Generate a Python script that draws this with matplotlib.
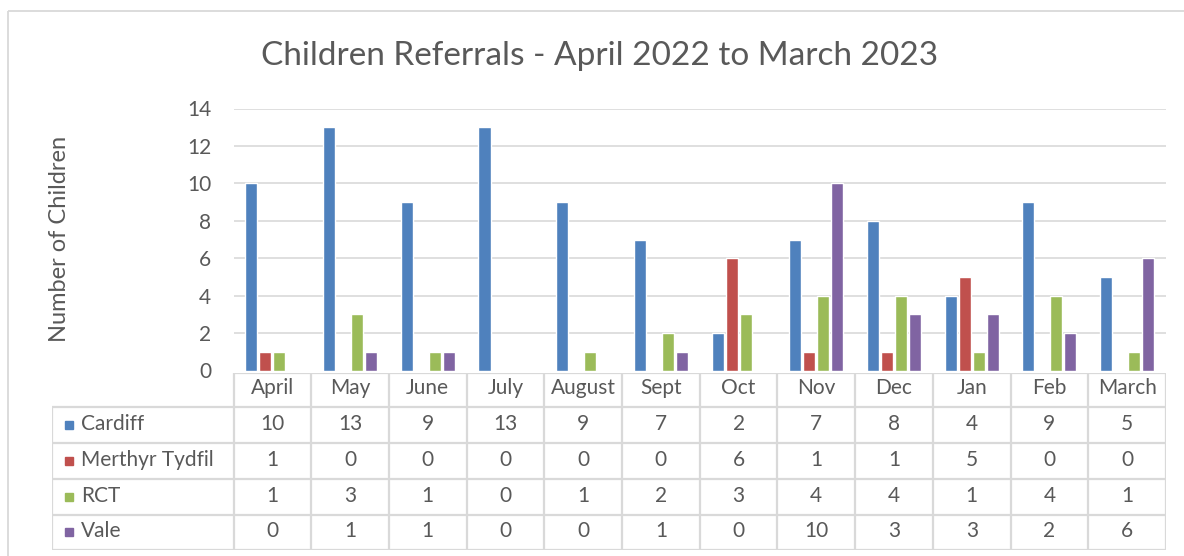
import matplotlib
matplotlib.use("Agg")
import matplotlib.pyplot as plt
import numpy as np

months = ["April", "May", "June", "July", "August", "Sept", "Oct", "Nov", "Dec", "Jan", "Feb", "March"]
series_names = ["Cardiff", "Merthyr Tydfil", "RCT", "Vale"]
cardiff = [10, 13, 9, 13, 9, 7, 2, 7, 8, 4, 9, 5]
merthyr = [1, 0, 0, 0, 0, 0, 6, 1, 1, 5, 0, 0]
rct = [1, 3, 1, 0, 1, 2, 3, 4, 4, 1, 4, 1]
vale = [0, 1, 1, 0, 0, 1, 0, 10, 3, 3, 2, 6]
colors = ["#4F81BD", "#C0504D", "#9BBB59", "#8064A2"]
yticks = [0, 2, 4, 6, 8, 10, 12, 14]
title = "Children Referrals - April 2022 to March 2023"
ylabel = "Number of Children"

FONT = ["Lato", "DejaVu Sans"]
plt.rcParams["font.family"] = FONT
TXT = "#595959"
GRID = "#D9D9D9"

W, H = 1184, 556
fig = plt.figure(figsize=(W / 100, H / 100), dpi=100)


def rect(x0, y0, x1, y1):
    return [x0 / W, 1 - y1 / H, (x1 - x0) / W, (y1 - y0) / H]


# outer chart border (top + left visible)
bg = fig.add_axes([0, 0, 1, 1])
bg.set_xlim(0, W)
bg.set_ylim(H, 0)
bg.axis("off")
bg.plot([7.5, W], [10.5, 10.5], color=GRID, lw=1.3, solid_capstyle="butt")
bg.plot([7.5, 7.5], [10.5, H], color=GRID, lw=1.3, solid_capstyle="butt")

PX0, PX1 = 233.5, 1166
PY0, PY1 = 108.5, 370.5
ax = fig.add_axes(rect(PX0, PY0, PX1, PY1))
ax.set_xlim(0, 12)
ax.set_ylim(0, 14)
for s in ax.spines.values():
    s.set_visible(False)
ax.set_xticks([])
ax.set_yticks(yticks)
ax.set_yticklabels([str(t) for t in yticks], fontsize=15, color=TXT)
ax.tick_params(axis="y", length=0, pad=16)
for t in yticks[1:]:
    ax.axhline(t, color=GRID, lw=1.2, zorder=1)

data = [cardiff, merthyr, rct, vale]
x = np.arange(12) + 0.5
pitch = 0.18
bw = 0.155
for k, (vals, c) in enumerate(zip(data, colors)):
    ax.bar(x + (k - 1.5) * pitch, vals, width=bw, color=c, edgecolor="white",
           linewidth=1.0, zorder=3)

fig.text(59 / W, 1 - 239 / H, ylabel, rotation=90, ha="center", va="center",
         fontsize=17, color=TXT)

fig.text(600 / W, 1 - 56 / H, title, ha="center", va="center", fontsize=24, color=TXT)

# data table
TX0, TY0, TY1 = 52, 372.5, 550
colw = (PX1 - PX0) / 12
L = (PX0 - TX0) / colw
tax = fig.add_axes(rect(TX0, TY0, PX1, TY1))
tax.set_xlim(-L, 12)
tax.set_ylim(TY1, TY0)
tax.axis("off")
row_edges = [372.5, 406.5, 442.5, 478.5, 514.5, 550]
lw_t = 1.6
tax.plot([0, 12], [row_edges[0]] * 2, color=GRID, lw=lw_t, solid_capstyle="butt")
for yv in row_edges[1:]:
    tax.plot([-L, 12], [yv, yv], color=GRID, lw=lw_t, solid_capstyle="butt")
tax.plot([-L, -L], [row_edges[1], row_edges[-1]], color=GRID, lw=lw_t, solid_capstyle="butt")
for i in range(13):
    tax.plot([i, i], [row_edges[0], row_edges[-1]], color=GRID, lw=lw_t, solid_capstyle="butt")

for i, m in enumerate(months):
    tax.text(i + 0.5, (row_edges[0] + row_edges[1]) / 2 - 2, m, ha="center", va="center",
             fontsize=15, color=TXT)
for r, (name, vals, c) in enumerate(zip(series_names, data, colors)):
    yc = (row_edges[r + 1] + row_edges[r + 2]) / 2 - 1
    tax.plot([-L + 17 / colw], [yc + 1], marker="s", ms=6, color=c, mec=c, ls="none")
    tax.text(-L + 29 / colw, yc, name, ha="left", va="center", fontsize=15, color=TXT)
    for i, v in enumerate(vals):
        tax.text(i + 0.5, yc, str(v), ha="center", va="center", fontsize=15, color=TXT)

fig.savefig("out.png", dpi=100)
